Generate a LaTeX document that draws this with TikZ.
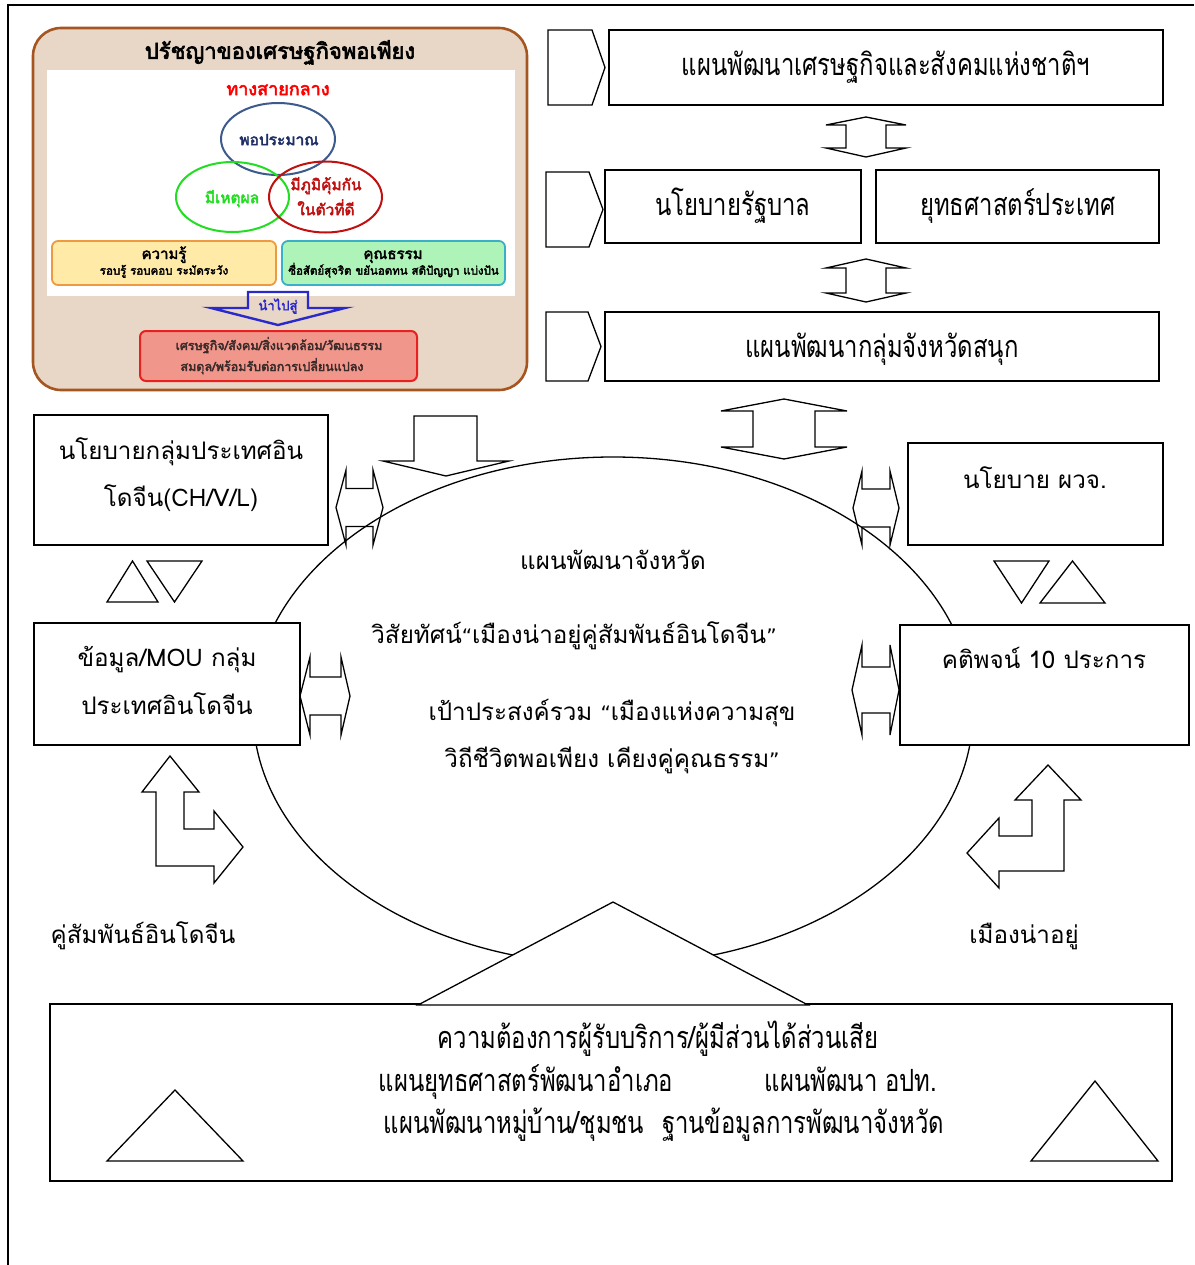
\documentclass[tikz,border=0pt]{standalone}
\usepackage{fontspec}
\setmainfont[Script=Thai]{Loma}
\newfontfamily\thaicond[Script=Thai,FakeStretch=0.78]{Loma}
\newfontfamily\thaibf[Script=Thai,FakeBold=3]{Loma}
\newfontfamily\dvs{DejaVu Sans}
\usetikzlibrary{shapes.geometric}
\definecolor{philbg}{HTML}{E8D6C6}
\definecolor{philbd}{HTML}{A55620}
\definecolor{navyc}{HTML}{3C5A8C}
\definecolor{navyt}{HTML}{1E2F66}
\definecolor{greenc}{HTML}{22DD22}
\definecolor{redc}{HTML}{C01010}
\definecolor{yellowf}{HTML}{FFEAA8}
\definecolor{yellowd}{HTML}{EE9A40}
\definecolor{greenf}{HTML}{AEF4B8}
\definecolor{greend}{HTML}{3AAFC8}
\definecolor{bluea}{HTML}{2A2ACC}
\definecolor{salmonf}{HTML}{F0968A}
\definecolor{salmond}{HTML}{E82020}
\definecolor{darkt}{HTML}{3A2A2A}
\newcommand\qopen{{\dvs\fontsize{20}{24}\selectfont “}}
\newcommand\qclose{{\dvs\fontsize{20}{24}\selectfont ”}}
\tikzset{
  plainbox/.style={draw, line width=1.4pt, fill=white, inner sep=0pt, outer sep=0pt},
  shp/.style={draw, line width=1.3pt, line join=miter},
  tx/.style={anchor=base, inner sep=0pt, yshift=-9.3pt, font=\fontsize{24.2}{28}\selectfont},
  ctx/.style={anchor=base, inner sep=0pt, yshift=-11.3pt, font=\thaicond\fontsize{30.6}{34}\selectfont},
  ptx/.style={anchor=base, inner sep=0pt, yshift=-0.4*#1, font=\thaibf\fontsize{#1}{#1}\selectfont},
}
\newcommand\mybx[5]{\node[plainbox, minimum width={#4-#2}, minimum height={#5-#3}] (#1) at ({(#2+#4)/2},{(#3+#5)/2}) {};}
% vertical double arrow: cx, W, S, yt1, yw1, yw2, yt2
\newcommand\dblver[7]{\draw[shp] (#1,#4) -- ({#1+#2},#5) -- ({#1+#3},#5) -- ({#1+#3},#6) -- ({#1+#2},#6) -- (#1,#7) -- ({#1-#2},#6) -- ({#1-#3},#6) -- ({#1-#3},#5) -- ({#1-#2},#5) -- cycle;}
% horizontal double arrow: cy, H, S, xt1, xw1, xw2, xt2
\newcommand\dblhor[7]{\draw[shp] (#4,#1) -- (#5,{#1-#2}) -- (#5,{#1-#3}) -- (#6,{#1-#3}) -- (#6,{#1-#2}) -- (#7,#1) -- (#6,{#1+#2}) -- (#6,{#1+#3}) -- (#5,{#1+#3}) -- (#5,{#1+#2}) -- cycle;}
\begin{document}
\begin{tikzpicture}[x=1pt,y=-1pt]
\useasboundingbox (0,0) rectangle (1194,1265);
% frame
\draw[line width=1.8pt] (1194,5) -- (8,5) -- (8,1265);

% ===== philosophy panel =====
\node[draw=philbd, fill=philbg, line width=2.6pt, rounded corners=28pt, inner sep=0pt, minimum width=494, minimum height=362] (phil) at (280,209) {};
\node[ptx=22pt] (philtitle) at (280,50) {ปรัชญาของเศรษฐกิจพอเพียง};
\node[fill=white, inner sep=0pt, minimum width=468, minimum height=226] (philin) at (281,183) {};
\node[ptx=18pt, text=red] (middle) at (278,88) {ทางสายกลาง};
\node[draw=navyc, line width=2pt, ellipse, inner sep=0pt, minimum width=114, minimum height=72] (e1) at (278,139) {};
\node[draw=greenc, line width=2pt, ellipse, inner sep=0pt, minimum width=113, minimum height=70] (e2) at (232.5,197) {};
\node[draw=redc, line width=2pt, ellipse, inner sep=0pt, minimum width=113, minimum height=71] (e3) at (325.5,197) {};
\node[ptx=15.5pt, text=navyt] (e1t) at (279,139) {พอประมาณ};
\node[ptx=15.5pt, text=greenc] (e2t) at (232,197) {มีเหตุผล};
\node[ptx=15.5pt, text=redc] (e3ta) at (326,184) {มีภูมิคุ้มกัน};
\node[ptx=15.5pt, text=redc] (e3tb) at (326,209) {ในตัวที่ดี};
\node[draw=yellowd, fill=yellowf, line width=1.8pt, rounded corners=6pt, inner sep=0pt, minimum width=224, minimum height=44] (know) at (164,263) {};
\node[draw=greend, fill=greenf, line width=1.8pt, rounded corners=6pt, inner sep=0pt, minimum width=223, minimum height=44] (virt) at (393.5,263) {};
\node[ptx=15pt] (knowa) at (164,253) {ความรู้};
\node[ptx=11.5pt] (knowb) at (164,270) {รอบรู้ รอบคอบ ระมัดระวัง};
\node[ptx=15pt] (virta) at (393,253) {คุณธรรม};
\node[ptx=11.5pt] (virtb) at (393.5,270) {ซื่อสัตย์สุจริต ขยันอดทน สติปัญญา แบ่งปัน};
\draw[draw=bluea, line width=2.4pt, line join=miter] (248,292) -- (308,292) -- (308,308) -- (345,308) -- (278,325) -- (211,308) -- (248,308) -- cycle;
\node[ptx=13pt, text=bluea] (lead) at (278,305) {นำไปสู่};
\node[draw=salmond, fill=salmonf, line width=2pt, rounded corners=6pt, inner sep=0pt, minimum width=277, minimum height=50] (result) at (278.5,356) {};
\node[ptx=12.5pt, text=darkt] (resa) at (279,345) {เศรษฐกิจ/สังคม/สิ่งแวดล้อม/วัฒนธรรม};
\node[ptx=12.5pt, text=darkt] (resb) at (272,366) {สมดุล/พร้อมรับต่อการเปลี่ยนแปลง};

% ===== top right stack =====
\draw[shp] (548,30) -- (592,30) -- (605,67.5) -- (592,105) -- (548,105) -- cycle;
\mybx{nb1}{609}{30}{1163}{105}
\node[ctx] (nb1t) at (886,64) {แผนพัฒนาเศรษฐกิจและสังคมแห่งชาติฯ};
\dblver{866}{40}{20}{117}{125}{148}{157}
\draw[shp] (546,172) -- (589,172) -- (603,209.5) -- (589,247) -- (546,247) -- cycle;
\mybx{nb2}{605}{170}{861}{243}
\mybx{nb3}{876}{170}{1159}{243}
\node[ctx] (nb2t) at (733,204) {นโยบายรัฐบาล};
\node[ctx] (nb3t) at (1018,204) {ยุทธศาสตร์ประเทศ};
\dblver{866}{40}{20}{259}{268}{293}{302}
\draw[shp] (546,312) -- (588,312) -- (601,346.5) -- (588,381) -- (546,381) -- cycle;
\mybx{nb4}{605}{312}{1159}{381}
\node[ctx] (nb4t) at (882,346) {แผนพัฒนากลุ่มจังหวัดสนุก};

% ===== central ellipse =====
\node[draw, line width=1.3pt, ellipse, inner sep=0pt, minimum width=720, minimum height=508] (prov) at (613,711) {};
\node[tx] (provt) at (613,560) {แผนพัฒนาจังหวัด};
\node[tx] (vision) at (574,634) {วิสัยทัศน์\qopen เมืองน่าอยู่คู่สัมพันธ์อินโดจีน\qclose};
\node[tx] (goala) at (612,711) {เป้าประสงค์รวม \qopen เมืองแห่งความสุข};
\node[tx] (goalb) at (612,758) {วิถีชีวิตพอเพียง เคียงคู่คุณธรรม\qclose};

% top middle arrows
\draw[shp] (414,416) -- (477,416) -- (477,461) -- (509,461) -- (446,476) -- (383,461) -- (414,461) -- cycle;
\dblver{784}{63}{31}{399}{411}{447}{459}

% ===== left column =====
\mybx{lb1}{34}{415}{328}{545}
\node[tx] (lb1a) at (181,450) {นโยบายกลุ่มประเทศอิน};
\node[tx] (lb1b) at (181,497) {โดจีน(CH/V/L)};
\dblhor{507.5}{37.5}{19}{336}{346}{373}{383}
\draw[shp] (107,602) -- (158,602) -- (132.5,561) -- cycle;
\draw[shp] (147,561) -- (202,561) -- (174.5,602) -- cycle;
\mybx{lb2}{34}{623}{300}{745}
\node[tx] (lb2a) at (167,657) {ข้อมูล/MOU กลุ่ม};
\node[tx] (lb2b) at (167,705) {ประเทศอินโดจีน};
\dblhor{696}{39}{19}{300}{310}{341}{350}
\draw[shp] (170,756) -- (199,792) -- (184,792) -- (184,829) -- (214,829) -- (214,811) -- (243,847) -- (214,883) -- (214,866) -- (156,866) -- (156,792) -- (142,792) -- cycle;
\node[tx] (lrel) at (143,934) {คู่สัมพันธ์อินโดจีน};

% ===== right column =====
\mybx{rb1}{908}{443}{1163}{545}
\node[tx] (rb1t) at (1035,479) {นโยบาย ผวจ.};
\dblhor{508}{37}{19}{853}{862}{890}{899}
\draw[shp] (994,561) -- (1049,561) -- (1021.5,603) -- cycle;
\draw[shp] (1040,603) -- (1105,603) -- (1072.5,561) -- cycle;
\mybx{rb2}{900}{625}{1189}{745}
\node[tx] (rb2t) at (1044,659) {คติพจน์ 10 ประการ};
\dblhor{690}{45}{23}{852}{862}{890}{899}
\draw[shp] (1048,765) -- (1081,800) -- (1064,800) -- (1064,871) -- (999,871) -- (999,888) -- (967,853) -- (999,818) -- (999,836) -- (1032,836) -- (1032,800) -- (1015,800) -- cycle;
\node[tx] (rliv) at (1024,934) {เมืองน่าอยู่};

% ===== bottom =====
\mybx{bb}{50}{1004}{1172}{1181}
\draw[shp, fill=white] (613,902) -- (808,1005) -- (418,1005) -- cycle;
\node[ctx] (bba) at (658,1037) {ความต้องการผู้รับบริการ/ผู้มีส่วนได้ส่วนเสีย};
\node[ctx] (bbb) at (526,1080) {แผนยุทธศาสตร์พัฒนาอำเภอ};
\node[ctx] (bbc) at (851,1080) {แผนพัฒนา อปท.};
\node[ctx] (bbd) at (514,1122) {แผนพัฒนาหมู่บ้าน/ชุมชน};
\node[ctx] (bbe) at (803,1122) {ฐานข้อมูลการพัฒนาจังหวัด};
\draw[shp] (107,1161) -- (243,1161) -- (175,1090) -- cycle;
\draw[shp] (1031,1161) -- (1158,1161) -- (1095,1081) -- cycle;
\end{tikzpicture}
\end{document}
